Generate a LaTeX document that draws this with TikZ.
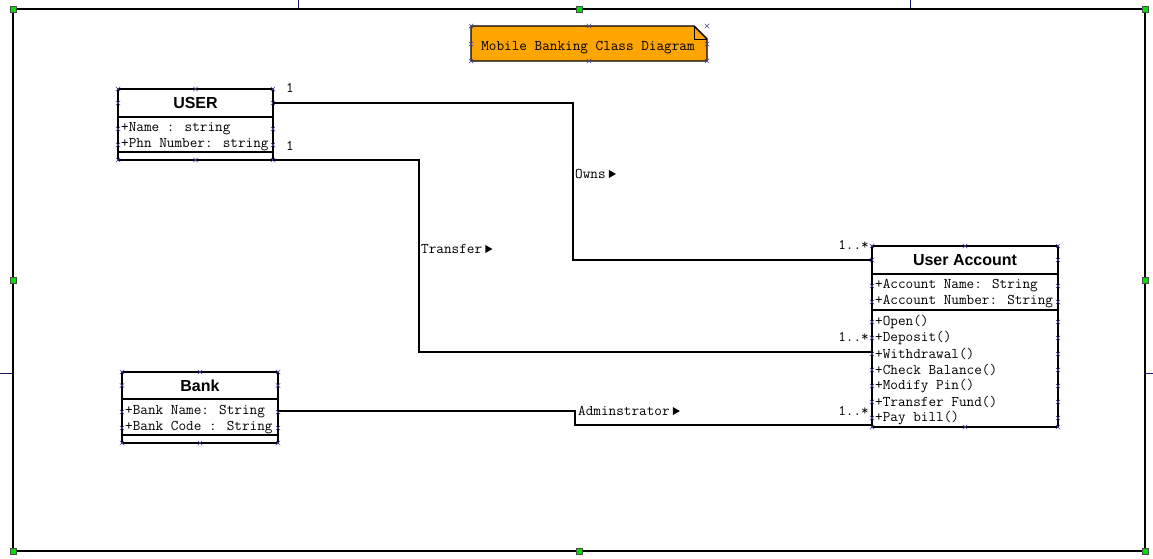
\documentclass[tikz,border=0pt]{standalone}
\usepackage{fontspec}
\usepackage{tikz}
\usetikzlibrary{calc,positioning,shapes}
\newfontfamily\umlsans{Liberation Sans}
\definecolor{notefill}{RGB}{255,165,0}
\definecolor{handleblue}{RGB}{70,70,160}
\definecolor{gripgreen}{RGB}{0,225,0}
\definecolor{pagebreak}{RGB}{20,20,110}
\tikzstyle{classhead}=[rectangle, draw, line width=1.6pt, inner sep=0pt, outer sep=0pt, anchor=north west, font=\umlsans\fontsize{16}{18}\selectfont\bfseries]
\tikzstyle{classpart}=[rectangle, draw, line width=1.6pt, inner sep=0pt, outer sep=0pt, anchor=north]
\tikzstyle{member}=[anchor=west, inner sep=1pt, font=\ttfamily\fontsize{14.8}{16}\selectfont]
\tikzstyle{assoc}=[line width=1.8pt]
\tikzstyle{handle}=[cross out, draw=handleblue, minimum size=4pt, inner sep=0pt, line width=0.5pt]
\tikzstyle{grip}=[rectangle, draw=black!70, fill=gripgreen, minimum size=6pt, inner sep=0pt, line width=0.4pt]

\begin{document}
\begin{tikzpicture}[x=1pt,y=-1pt]
\useasboundingbox (0,0) rectangle (1153,559);

% page breaks
\draw[pagebreak] (298,0) -- (298,9);
\draw[pagebreak] (910,0) -- (910,9);
\draw[pagebreak] (0,373) -- (13,373);
\draw[pagebreak] (1145,373) -- (1153,373);

% frame
\draw[line width=1.6pt] (13,9) rectangle (1145,551);
\foreach \p [count=\k] in {{13,9},{579,9},{1145,9},{13,280},{1145,280},{13,551},{579,551},{1145,551}}
  \node[grip] (g\k) at (\p) {};

% note
\filldraw[fill=notefill, line width=1.4pt] (471,26) -- (694,26) -- (707,39) -- (707,61) -- (471,61) -- cycle;
\draw[line width=0.8pt] (694,26) |- (707,39);
\node[member, anchor=center] (title) at (588,48) {Mobile Banking Class Diagram};
\foreach \p [count=\k] in {{471,26},{589,26},{707,26},{471,44},{707,44},{471,61},{589,61},{707,61}}
  \node[handle] (hn\k) at (\p) {};

% USER
\node[classhead, minimum width=155, minimum height=28] (user) at (118,89) {USER};
\node[classpart, minimum width=155, minimum height=35] (userattr) at (user.south) {};
\node[classpart, minimum width=155, minimum height=8] (userops) at (userattr.south) {};
\node[member] (uname) at ($(userattr.north west)+(2,12)$) {+Name : string};
\node[member] (uphone) at ($(userattr.north west)+(2,28)$) {+Phn Number: string};

% Bank
\node[classhead, minimum width=156, minimum height=27] (bank) at (122,372) {Bank};
\node[classpart, minimum width=156, minimum height=36] (bankattr) at (bank.south) {};
\node[classpart, minimum width=156, minimum height=8] (bankops) at (bankattr.south) {};
\node[member] (bname) at ($(bankattr.north west)+(2,13)$) {+Bank Name: String};
\node[member] (bcode) at ($(bankattr.north west)+(2,29)$) {+Bank Code : String};

% User Account
\node[classhead, minimum width=186, minimum height=28] (accthead) at (872,246) {User Account};
\node[classpart, minimum width=186, minimum height=36] (acctattr) at (accthead.south) {};
\node[classpart, minimum width=186, minimum height=117] (acctops) at (acctattr.south) {};
\node[member] (aname) at ($(acctattr.north west)+(2,12)$) {+Account Name: String};
\node[member] (anum) at ($(acctattr.north west)+(2,28)$) {+Account Number: String};
\foreach \t [count=\i] in {+Open(),+Deposit(),+Withdrawal(),+Check Balance(),+Modify Pin(),+Transfer Fund(),+Pay bill()}
  \node[member] (op\i) at ($(acctops.north west)+(2,{12+16*(\i-1)})$) {\t};

% handles
\foreach \a [count=\k] in {user.north west,user.north,user.north east,user.west,user.east,
    userattr.west |- uname,userattr.east |- uname,userattr.west |- uphone,userattr.east |- uphone,
    userops.south west,userops.south,userops.south east}
  \node[handle] (hu\k) at (\a) {};
\foreach \a [count=\k] in {bank.north west,bank.north,bank.north east,bank.west,bank.east,
    bankattr.west |- bname,bankattr.east |- bname,bankattr.west |- bcode,bankattr.east |- bcode,
    bankops.south west,bankops.south,bankops.south east}
  \node[handle] (hb\k) at (\a) {};
\foreach \a [count=\k] in {accthead.north west,accthead.north,accthead.north east,accthead.west,accthead.east,
    acctattr.west |- aname,acctattr.east |- aname,acctattr.west |- anum,acctattr.east |- anum,
    acctops.south west,acctops.south,acctops.south east}
  \node[handle] (ha\k) at (\a) {};
\foreach \i in {1,...,7} {
  \node[handle] (hl\i) at (acctops.west |- op\i) {};
  \node[handle] (hr\i) at (acctops.east |- op\i) {};
}

% associations
\coordinate (ownsbend) at (573,180);
\coordinate (trbend) at (419,250);
\coordinate (admbend) at (575,418);
\draw[assoc] (user.east) -| (ownsbend) |- (accthead.west);
\draw[assoc] (userops.south east) -| (trbend) |- ($(acctops.west |- op3)+(0,-2)$);
\draw[assoc] ($(bankattr.east |- bname)+(0,-1)$) -| (admbend) |- ($(acctops.south west)+(0,-2)$);

\node[member] (owns) at (574,174) {Owns};
\fill ($(owns.east)+(2,-4)$) -- ++(7,4) -- ++(-7,4) -- cycle;
\node[member] (transfer) at (420,249) {Transfer};
\fill ($(transfer.east)+(2,-4)$) -- ++(7,4) -- ++(-7,4) -- cycle;
\node[member] (admin) at (577,411) {Adminstrator};
\fill ($(admin.east)+(2,-4)$) -- ++(7,4) -- ++(-7,4) -- cycle;

% multiplicities
\node[member] (m1) at (285,88) {1};
\node[member] (m2) at (285,146) {1};
\node[member, anchor=east] (m3) at (870,245) {1..*};
\node[member, anchor=east] (m4) at (870,337) {1..*};
\node[member, anchor=east] (m5) at (870,411) {1..*};
\end{tikzpicture}
\end{document}
